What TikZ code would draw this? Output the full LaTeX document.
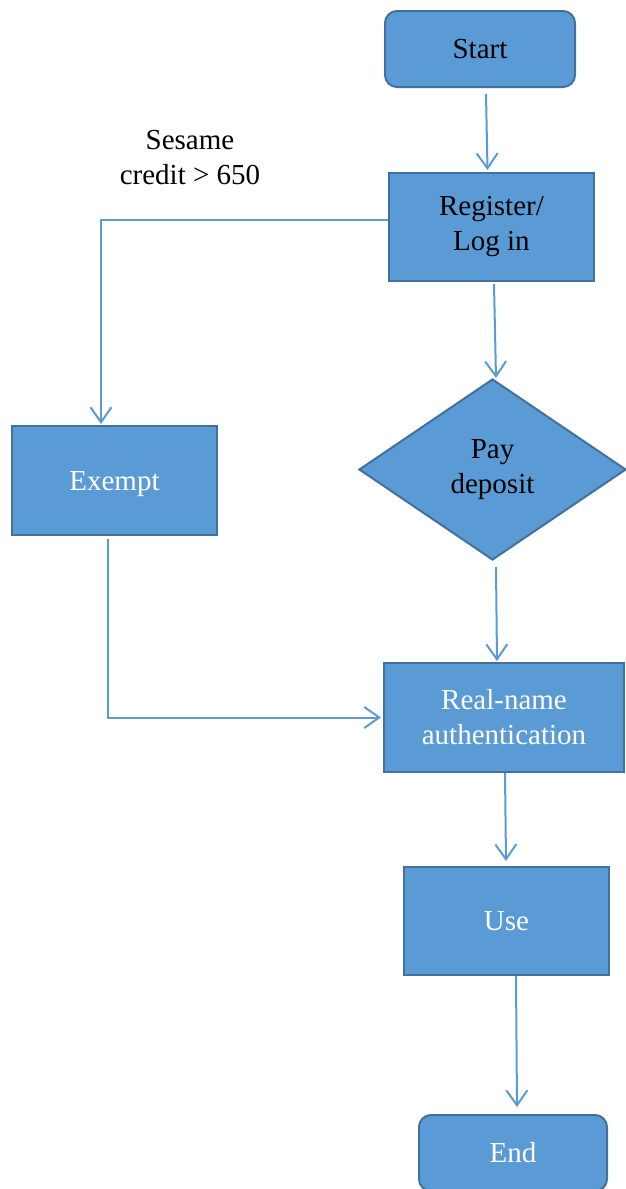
\documentclass[tikz,border=0pt]{standalone}
\usepackage{fontspec}
\setmainfont{Liberation Serif}
\newfontfamily\tnr{Liberation Serif}
\usetikzlibrary{arrows.meta,shapes.geometric}
\definecolor{boxfill}{HTML}{5B9BD5}
\definecolor{boxline}{HTML}{41719C}
\definecolor{conn}{HTML}{5B9BD5}
\tikzset{
  txt/.style={font=\tnr\fontsize{29}{35}\selectfont},
  base/.style={draw=boxline, fill=boxfill, line width=2pt, align=center, inner sep=0pt, txt},
  roundbox/.style={base, rounded corners=12pt},
  rectbox/.style={base},
  decide/.style={base, diamond, aspect=1.475},
  conline/.style={draw=conn, line width=2pt, -{Straight Barb[length=15pt,width=21pt,line width=2pt]}},
}
\begin{document}
\begin{tikzpicture}[x=1pt,y=-1pt]
\useasboundingbox (0,0) rectangle (626,1189);
\node[roundbox, minimum width=190pt, minimum height=76pt, text=black] (start) at (480,49) {Start};
\node[rectbox, minimum width=205pt, minimum height=108pt, text=black] (reg) at (491.5,227) {Register/\\Log in};
\node[decide, minimum width=267pt, minimum height=181pt, text=black] (pay) at (492.5,469.5) {Pay\\deposit};
\node[rectbox, minimum width=205pt, minimum height=109pt, text=white, text depth=0pt] (exempt) at (114.5,480.5) {Exempt};
\node[rectbox, minimum width=240pt, minimum height=109pt, text=white] (real) at (504,717.5) {Real-name\\authentication};
\node[rectbox, minimum width=205pt, minimum height=108pt, text=white] (use) at (506.5,921) {Use};
\node[roundbox, minimum width=188pt, minimum height=76pt, text=white] (end) at (513,1153) {End};
\node[align=center, inner sep=0pt, txt] (cond) at (190,158) {Sesame\\credit > 650};

\draw[conline] ([xshift=6pt,yshift=-6pt]start.south) -- ([xshift=-4pt,yshift=2pt]reg.north);
\draw[conline] ([xshift=2.5pt,yshift=-2pt]reg.south) -- ([xshift=3.5pt]pay.north);
\draw[conline] ([yshift=7pt]reg.west) -| ([xshift=-13.5pt,yshift=1pt]exempt.north);
\draw[conline] ([xshift=3.5pt,yshift=-6pt]pay.south) -- ([xshift=-7pt,yshift=1pt]real.north);
\draw[conline] ([xshift=-6.5pt,yshift=-3pt]exempt.south) |- ([xshift=-2pt]real.west);
\draw[conline] ([xshift=1pt]real.south) -- ([xshift=-0.5pt,yshift=5pt]use.north);
\draw[conline] ([xshift=9.5pt]use.south) -- ([xshift=4pt,yshift=7pt]end.north);
\end{tikzpicture}
\end{document}
